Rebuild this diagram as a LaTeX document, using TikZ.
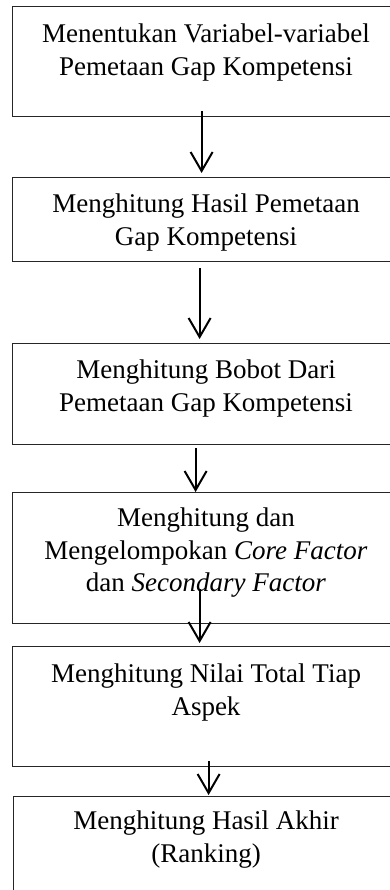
\documentclass[tikz,border=0pt]{standalone}
\usepackage{fontspec}
\setmainfont{Liberation Serif}
\usetikzlibrary{arrows.meta}
\begin{document}
\begin{tikzpicture}[x=1pt,y=1pt,
  stepbox/.style={draw=black!85, line width=1.2pt, rectangle, minimum width=388pt,
                  inner sep=0pt, anchor=north west},
  steptext/.style={align=center, inner sep=0pt, anchor=north,
                   font=\fontsize{27}{32.5}\selectfont},
  flow/.style={line width=2.2pt, -{Straight Barb[length=19pt,width=22pt,line width=2pt]}}]
\useasboundingbox (0,0) rectangle (390,-890);
\clip (0,0) rectangle (390,-890);
\fill[white] (0,0) rectangle (390,-890);

% process boxes
\node[stepbox, minimum height=110pt] (b1) at (12,-6) {};
\node[stepbox, minimum height=84pt]  (b2) at (12,-177) {};
\node[stepbox, minimum height=101pt] (b3) at (12,-343) {};
\node[stepbox, minimum height=131pt] (b4) at (12,-492) {};
\node[stepbox, minimum height=120pt] (b5) at (12,-646) {};
\node[stepbox, minimum height=112pt] (b6) at (13,-796) {};

% box captions
\node[steptext] (t1) at (206,-24) {Menentukan Variabel-variabel\\Pemetaan Gap Kompetensi};
\node[steptext] (t2) at (206,-194) {Menghitung Hasil Pemetaan\\Gap Kompetensi};
\node[steptext] (t3) at (206,-360) {Menghitung Bobot Dari\\Pemetaan Gap Kompetensi};
\node[steptext] (t4) at (206,-508) {Menghitung dan\\Mengelompokan \textit{Core Factor}\\dan \textit{Secondary Factor}};
\node[steptext] (t5) at (206,-664) {Menghitung Nilai Total Tiap\\Aspek};
\node[steptext] (t6) at (206,-811) {Menghitung Hasil Akhir\\(Ranking)};

% connectors
\draw[flow] ([shift={(-5,6)}]b1.south) -- ([shift={(-5,4)}]b2.north);
\draw[flow] ([shift={(-7,-6)}]b2.south) -- ([shift={(-7,4)}]b3.north);
\draw[flow] ([shift={(-11,-3)}]b3.south) -- ([shift={(-11,0)}]b4.north);
\draw[flow] ([shift={(-7,35)}]b4.south) -- ([shift={(-7,3)}]b5.north);
\draw[flow] ([shift={(2,6)}]b5.south) -- ([shift={(1,1)}]b6.north);
\end{tikzpicture}
\end{document}
